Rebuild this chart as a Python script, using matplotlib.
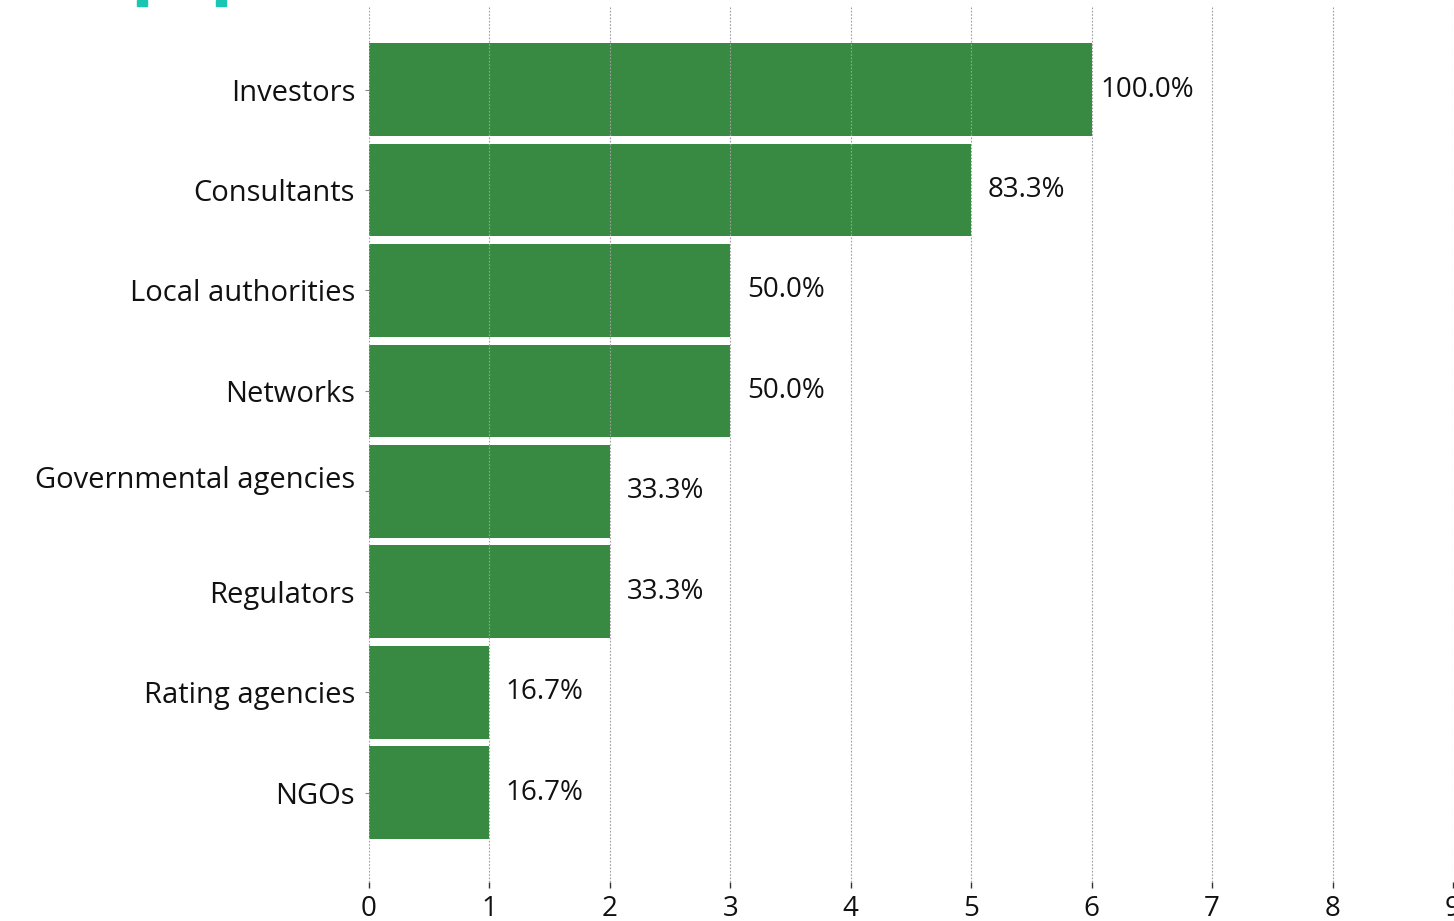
import matplotlib
matplotlib.use("Agg")
import matplotlib.pyplot as plt
from matplotlib.patches import Rectangle

# Stakeholder groups and counts of mentions
categories = ["Investors", "Consultants", "Local authorities", "Networks",
              "Governmental agencies\n", "Regulators", "Rating agencies", "NGOs"]
counts = [6, 5, 3, 3, 2, 2, 1, 1]
shares = ["100.0%", "83.3%", "50.0%", "50.0%", "33.3%", "33.3%", "16.7%", "16.7%"]
x_ticks = list(range(0, 10))

BAR_COLOR = "#388A42"
FONT = "Open Sans"
FS = 21

plt.rcParams["font.family"] = [FONT, "DejaVu Sans"]

fig = plt.figure(figsize=(14.54, 9.21), dpi=100)
ax = fig.add_axes([369 / 1454, 39 / 921, 1084 / 1454, 876 / 921])

ypos = list(range(len(categories)))
ax.barh(ypos, counts, height=0.925, color=BAR_COLOR, zorder=1)

for y, v, s in zip(ypos, counts, shares):
    ax.text(v + 0.46, y, s, ha="center", va="center", fontsize=FS - 1,
            color="#111111")

ax.set_yticks(ypos)
ax.set_yticklabels(categories, fontsize=FS, color="#111111",
                   linespacing=1.0)
ax.set_xticks(x_ticks)
ax.set_xticklabels([str(t) for t in x_ticks], fontsize=FS - 1, color="#111111")
ax.set_xlim(0, 9)
ax.set_ylim(7.886, -0.831)

for side in ["top", "right", "left", "bottom"]:
    ax.spines[side].set_visible(False)

ax.tick_params(axis="x", length=4.5, width=1.0, color="#333333", pad=5)
ax.tick_params(axis="y", length=3, width=0.8, color="#888888", pad=7)

ax.set_axisbelow(False)
ax.xaxis.grid(True, linestyle=(0, (1.5, 1.5)), linewidth=0.8, color="#a0a0a0")
ax.yaxis.grid(False)

# Remnants of the heading band at the top edge
for x0 in (137, 216):
    fig.patches.append(Rectangle((x0 / 1454, 915 / 921), 10 / 1454, 6 / 921,
                                 transform=fig.transFigure,
                                 color="#19C6B2", zorder=5))

fig.savefig("out.png", dpi=100)
